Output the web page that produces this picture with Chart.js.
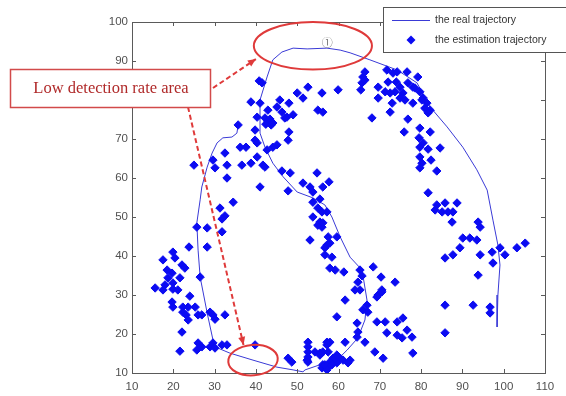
<!DOCTYPE html>
<html>
<head>
<meta charset="utf-8">
<script src="https://cdn.jsdelivr.net/npm/chart.js@4"></script>
<style>
html,body{margin:0;padding:0;background:#fff;}
#wrap{width:566px;height:396px;position:relative;}
</style>
</head>
<body>
<div id="wrap"><canvas id="c" width="566" height="396"></canvas></div>
<script>
// ---- data ----
const xTicks = [10,20,30,40,50,60,70,80,90,100,110];
const yTicks = [10,20,30,40,50,60,70,80,90,100];
const seriesNames = ['the real trajectory','the estimation trajectory'];
const annotationText = 'Low detection rate area';

const realTrajectory = [
 [35.7,73.6],[35.4,71.5],[34.2,70.5],[32.0,70.3],[30.6,69.0],[29.4,66.4],[28.2,62.8],[26.9,57.7],
 [26.5,54.4],[25.7,48.5],[26.0,41.5],[26.5,34.6],[28.2,25.4],[29.6,18.5],[30.1,16.7],[33.7,15.1],
 [39.3,13.3],[45.1,11.5],[49.0,10.8],[51.4,10.3],[51.9,10.8],[55.5,12.1],[59.9,13.6],[62.1,15.9],
 [64.7,19.0],[66.4,23.6],[66.9,28.7],[65.7,36.4],[62.8,39.7],[60.4,44.9],[58.4,50.0],[56.7,53.1],
 [53.8,54.9],[50.0,56.4],[46.6,60.3],[44.1,63.8],[42.2,67.9],[41.0,71.5],[41.0,80.0],[42.7,85.9],
 [44.1,90.3],[46.3,92.3],[49.0,93.3],[52.4,93.1],[57.2,93.3],[60.4,92.8],[62.8,92.1],[67.6,90.3],
 [74.2,87.7],[79.0,84.4],[82.2,78.2],[86.3,73.1],[90.1,67.9],[93.5,62.1],[96.0,56.9],[97.4,49.2],
 [98.6,42.8],[99.1,37.7],[98.6,30.0],[98.4,21.8]
];

const estimationPoints = [
 // upper-left cluster
 [40.8,84.9],[38.8,79.5],[41.0,79.2],[42.9,77.4],[45.8,80.0],[48.0,79.2],[45.1,78.2],[42.2,75.4],
 [42.9,74.6],[43.4,75.1],[42.4,73.8],[43.7,73.6],[44.1,74.1],[40.3,75.6],[46.3,76.9],[47.5,75.6],
 [49.0,76.2],[47.0,75.4],[39.8,72.3],[35.7,73.6],[48.0,71.8],[47.8,69.7],[45.1,68.5],[39.8,69.7],
 [40.3,69.0],[36.2,67.9],[37.6,67.9],[42.7,67.2],[44.1,67.9],[32.5,66.4],[25.0,63.3],[29.6,64.6],
 [30.1,62.6],[33.0,63.3],[36.6,63.3],[38.8,63.8],[40.3,65.4],[41.7,63.3],[33.0,60.0],[41.0,57.7],
 [46.3,61.8],[48.3,61.3],[51.4,58.7],[54.8,61.3],[57.7,59.0],[53.8,56.4],[47.8,56.7],[53.1,57.7],
 [56.2,57.7],[42.2,62.8],[41.5,84.4],
 // top
 [52.6,83.3],[50.0,81.8],[51.4,80.5],[56.0,81.8],[59.9,82.6],[55.0,77.4],[56.2,76.9],[65.4,82.6],
 [65.7,84.4],[65.9,85.9],[66.4,87.2],[66.4,85.1],[69.6,83.3],[69.6,80.5],[68.1,75.4],
 // right upper cluster
 [71.7,87.7],[73.2,86.9],[74.2,87.2],[76.6,87.2],[79.2,85.9],[72.0,84.6],[74.0,84.6],[76.8,84.4],
 [78.0,83.3],[74.9,83.3],[78.5,83.1],[71.3,82.1],[73.7,82.1],[75.6,81.8],[72.5,81.8],[79.7,82.1],
 [80.5,80.5],[74.9,80.5],[76.1,80.0],[73.0,79.2],[81.4,79.2],[78.0,79.2],[80.2,80.0],[82.2,77.4],
 [80.9,77.9],[81.7,76.7],[72.5,76.9],[76.8,75.1],[75.9,71.8],[79.7,72.8],[82.2,71.8],[79.5,70.3],
 [80.5,69.0],[81.7,67.4],[84.6,67.7],[79.7,67.9],[79.7,65.4],[80.2,63.8],[79.7,62.6],[82.4,64.6],
 [83.8,61.8],
 // right middle
 [81.7,56.2],[83.4,51.8],[83.8,53.1],[85.8,53.6],[88.7,53.6],[87.7,51.3],[85.1,51.3],[86.5,51.3],
 [87.5,48.7],[93.8,48.7],[94.3,47.4],[90.1,44.6],[91.8,44.6],[93.5,44.1],[89.4,42.1],[87.7,40.3],
 [85.8,39.5],[94.3,40.3],[97.2,41.0],[99.1,42.1],[100.3,40.3],[103.2,42.1],[105.2,43.3],[97.4,38.2],
 [93.8,35.1],[70.3,34.6],[73.7,33.3],[70.5,31.3],[85.8,27.4],[92.6,27.4],[96.7,26.9],[96.7,25.4],
 [85.8,20.3],
 // centre diagonal and bottom
 [53.8,53.8],[55.5,54.6],[55.0,52.3],[57.2,51.3],[56.0,51.3],[55.5,48.7],[56.0,47.4],[55.0,47.9],
 [56.2,48.5],[53.1,44.1],[57.5,44.9],[59.6,44.9],[57.2,42.8],[56.7,42.1],[56.7,40.3],[58.4,39.7],
 [57.9,43.3],[53.8,50.0],[57.9,36.9],[59.2,36.4],[61.3,35.9],[65.2,36.4],[68.4,37.2],[65.7,34.9],
 [64.7,33.3],[65.2,31.3],[64.0,31.3],[69.6,30.0],[70.5,30.8],[69.3,29.5],[61.6,28.7],[66.9,27.4],
 [65.9,26.2],[67.1,25.6],[59.6,24.4],[64.5,22.8],[69.3,23.1],[71.3,23.1],[74.2,23.1],[75.6,24.1],
 [71.7,20.3],[74.2,19.7],[75.4,19.0],[76.6,21.0],[77.8,19.2],[78.0,15.1],[64.7,20.5],[64.5,19.2],
 [61.6,17.9],[66.4,17.9],[57.2,17.9],[52.6,17.9],[52.6,16.7],[52.6,15.4],[52.4,13.3],[54.3,15.4],
 [55.5,15.1],[56.2,15.4],[57.5,15.4],[57.2,17.2],[47.8,13.8],[48.7,12.8],[58.7,13.8],[60.4,13.8],
 [61.1,13.3],[59.6,12.6],[57.9,12.8],[56.2,12.1],[56.0,11.3],[57.2,11.3],[58.4,12.1],[62.8,13.3],
 [62.3,12.6],[68.8,15.4],[70.8,13.8],[57.2,10.8],[59.2,13.8],[55.5,14.6],[56.7,12.1],[59.6,14.6],
 [57.9,17.9],[52.6,14.1],[52.6,12.8],
 // left cluster
 [34.5,53.8],[31.3,52.3],[32.5,50.3],[31.8,49.5],[25.7,47.4],[28.2,47.2],[31.8,46.2],[23.8,42.3],
 [28.2,42.3],[19.9,41.0],[20.4,39.5],[17.5,39.0],[22.1,37.7],[22.8,36.9],[19.7,35.6],[18.7,34.4],
 [21.6,34.4],[19.9,33.1],[18.0,32.6],[15.6,31.8],[26.5,34.6],[18.5,36.4],[17.5,31.3],[19.9,31.5],
 [21.1,31.3],[24.0,29.7],[19.7,28.2],[19.9,26.9],[22.3,26.9],[23.6,26.9],[25.3,26.9],[22.3,25.6],
 [23.1,24.9],[23.6,23.6],[26.0,24.9],[26.9,24.9],[28.9,25.6],[29.6,24.9],[30.1,23.8],[32.5,24.9],
 [22.1,20.5],[26.0,17.7],[25.7,15.9],[26.9,16.7],[28.9,16.7],[29.6,17.7],[30.1,16.4],[31.8,17.2],
 [33.0,17.2],[21.6,15.6],[39.8,17.2]
];

// ---- drawing ----
const LINE_COLOR = '#3a3ad6';
const MARK_COLOR = '#0b0bf2';
const RED = '#df3a3a';

const frameAndNotes = {
  id: 'frameAndNotes',
  afterDraw(chart) {
    const ctx = chart.ctx;
    const {left, right, top, bottom} = chart.chartArea;
    const xs = chart.scales.x, ys = chart.scales.y;
    ctx.save();
    // axes box
    ctx.strokeStyle = '#5a5a5a';
    ctx.lineWidth = 1;
    ctx.strokeRect(Math.round(left) + 0.5, Math.round(top) + 0.5, Math.round(right - left), Math.round(bottom - top));
    // inward ticks on all sides
    ctx.beginPath();
    xTicks.forEach(v => {
      const p = Math.round(xs.getPixelForValue(v)) + 0.5;
      ctx.moveTo(p, bottom); ctx.lineTo(p, bottom - 4);
      ctx.moveTo(p, top); ctx.lineTo(p, top + 4);
    });
    yTicks.forEach(v => {
      const p = Math.round(ys.getPixelForValue(v)) + 0.5;
      ctx.moveTo(left, p); ctx.lineTo(left + 4, p);
      ctx.moveTo(right, p); ctx.lineTo(right - 4, p);
    });
    ctx.stroke();

    // red ellipses (placed in data units)
    const ell = (cx, cy, rx, ry, rot) => {
      const px = xs.getPixelForValue(cx), py = ys.getPixelForValue(cy);
      const prx = Math.abs(xs.getPixelForValue(cx + rx) - px);
      const pry = Math.abs(ys.getPixelForValue(cy + ry) - py);
      ctx.beginPath();
      ctx.ellipse(px, py, prx, pry, rot, 0, Math.PI * 2);
      ctx.stroke();
    };
    ctx.strokeStyle = RED;
    ctx.lineWidth = 2;
    ell(53.8, 93.9, 14.3, 6.1, 0);
    ell(39.3, 13.3, 6.0, 3.9, -0.08);

    // circled marker
    ctx.fillStyle = '#777';
    ctx.font = '11px "Noto Sans CJK SC", "DejaVu Sans", sans-serif';
    ctx.textAlign = 'center';
    ctx.textBaseline = 'middle';
    ctx.fillText('\u2460', xs.getPixelForValue(57.3), ys.getPixelForValue(94.6));

    // dashed arrows
    const arrow = (x1, y1, x2, y2) => {
      ctx.save();
      ctx.strokeStyle = RED; ctx.fillStyle = RED;
      ctx.lineWidth = 2;
      ctx.setLineDash([5, 3]);
      ctx.beginPath(); ctx.moveTo(x1, y1); ctx.lineTo(x2, y2); ctx.stroke();
      ctx.setLineDash([]);
      const a = Math.atan2(y2 - y1, x2 - x1), L = 8, W = 3.5;
      ctx.beginPath();
      ctx.moveTo(x2, y2);
      ctx.lineTo(x2 - L * Math.cos(a) + W * Math.sin(a), y2 - L * Math.sin(a) - W * Math.cos(a));
      ctx.lineTo(x2 - L * Math.cos(a) - W * Math.sin(a), y2 - L * Math.sin(a) + W * Math.cos(a));
      ctx.closePath(); ctx.fill();
      ctx.restore();
    };
    arrow(213, 88, xs.getPixelForValue(40.0), ys.getPixelForValue(90.5));
    arrow(188, 107, xs.getPixelForValue(37.0), ys.getPixelForValue(17.2));

    // annotation box
    ctx.fillStyle = '#fff';
    ctx.fillRect(10, 69, 200, 38);
    ctx.strokeStyle = '#d24a4a';
    ctx.lineWidth = 1.5;
    ctx.strokeRect(10.5, 69.5, 200, 38);
    ctx.fillStyle = '#b02a2a';
    ctx.font = '16.5px "Liberation Serif", "Times New Roman", serif';
    ctx.textAlign = 'center';
    ctx.textBaseline = 'middle';
    ctx.fillText(annotationText, 111, 89);

    // legend
    ctx.fillStyle = '#fff';
    ctx.fillRect(383, 7, 190, 45);
    ctx.strokeStyle = '#555';
    ctx.lineWidth = 1;
    ctx.strokeRect(383.5, 7.5, 190, 45);
    ctx.strokeStyle = LINE_COLOR;
    ctx.beginPath(); ctx.moveTo(392, 20.5); ctx.lineTo(430, 20.5); ctx.stroke();
    ctx.fillStyle = MARK_COLOR;
    ctx.beginPath();
    ctx.moveTo(411, 35.5); ctx.lineTo(415.5, 40); ctx.lineTo(411, 44.5); ctx.lineTo(406.5, 40); ctx.closePath(); ctx.fill();
    ctx.fillStyle = '#333';
    ctx.font = '10.5px "Liberation Sans", Arial, sans-serif';
    ctx.textAlign = 'left';
    ctx.fillText(seriesNames[0], 435, 20);
    ctx.fillText(seriesNames[1], 435, 40);
    ctx.restore();
  }
};

new Chart(document.getElementById('c'), {
  type: 'scatter',
  data: {
    datasets: [
      {
        label: seriesNames[0],
        data: realTrajectory.map(p => ({x: p[0], y: p[1]})),
        showLine: true,
        borderColor: LINE_COLOR,
        borderWidth: 1,
        pointRadius: 0,
        tension: 0,
        order: 2
      },
      {
        label: seriesNames[1],
        data: estimationPoints.map(p => ({x: p[0], y: p[1]})),
        showLine: false,
        pointStyle: 'rectRot',
        pointRadius: 4.2,
        pointBackgroundColor: MARK_COLOR,
        pointBorderColor: MARK_COLOR,
        pointBorderWidth: 1,
        order: 1
      }
    ]
  },
  options: {
    responsive: false,
    animation: false,
    layout: {padding: {top: 22, right: 21, left: 0, bottom: 0}},
    plugins: {legend: {display: false}, tooltip: {enabled: false}},
    scales: {
      x: {
        type: 'linear', min: 10, max: 110,
        afterBuildTicks: s => { s.ticks = xTicks.map(v => ({value: v})); },
        afterFit: s => { s.height = 23; },
        grid: {display: false, drawTicks: false},
        border: {display: false},
        ticks: {padding: 7, color: '#505050', font: {family: '"Liberation Sans", Arial, sans-serif', size: 11.5}}
      },
      y: {
        type: 'linear', min: 10, max: 100,
        afterBuildTicks: s => { s.ticks = yTicks.map(v => ({value: v})); },
        afterFit: s => { s.width = 132; },
        grid: {display: false, drawTicks: false},
        border: {display: false},
        ticks: {padding: 4, color: '#505050', font: {family: '"Liberation Sans", Arial, sans-serif', size: 11.5}}
      }
    }
  },
  plugins: [frameAndNotes]
});
</script>
</body>
</html>
